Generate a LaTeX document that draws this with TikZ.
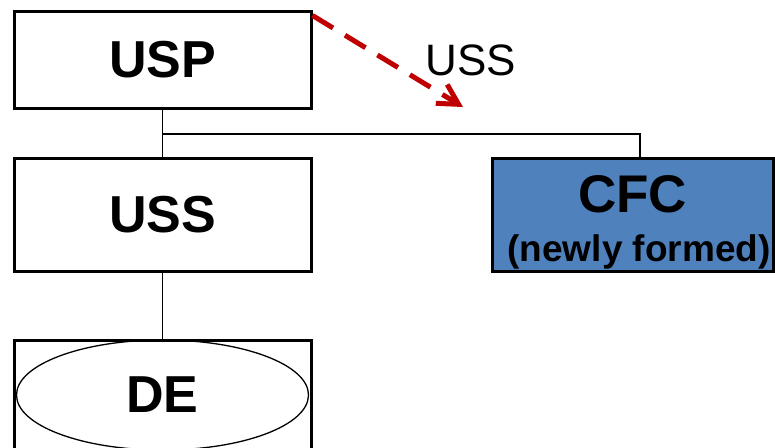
\documentclass[tikz,border=0pt]{standalone}
\usepackage{fontspec}
\setmainfont{Liberation Sans}
\usepackage{tikz}
\usetikzlibrary{arrows,arrows.meta}
\usetikzlibrary{shapes.geometric}
\usepackage{xcolor}
\definecolor{bl}{HTML}{4F81BD}
\definecolor{rd}{HTML}{C00000}
\tikzstyle{unit}=[draw,line width=3pt,minimum width=297pt,inner sep=0pt]
\tikzstyle{big}=[font=\fontsize{52}{52}\selectfont\bfseries]
\tikzstyle{link}=[line width=1.6pt]
\tikzstyle{move}=[draw=rd,line width=5pt,dash pattern=on 24pt off 14pt,-{Straight Barb[length=20pt,width=22pt,line width=5pt]}]

\begin{document}
\begin{tikzpicture}[x=1pt,y=-1pt]
  \useasboundingbox (0,0) rectangle (775,447);
  \clip (0,0) rectangle (775,447);
  \node[unit,minimum height=97pt,big] (usp) at (162.5,59.5) {USP};
  \node[unit,minimum height=113pt,big] (uss) at (162.5,214.5) {USS};
  \node[unit,minimum height=140pt,anchor=north] (debox) at (162.5,339) {};
  \node[ellipse,draw,line width=1.3pt,minimum width=292pt,minimum height=110pt,inner sep=0pt,big] (de) at (162.5,395) {DE};
  \node[unit,fill=bl,minimum width=281pt,minimum height=113pt] (cfc) at (632.5,214.5) {};
  \node[font=\fontsize{53}{53}\selectfont\bfseries] (cfcname) at (632.5,194.5) {CFC};
  \node[font=\fontsize{37}{37}\selectfont\bfseries,inner sep=0pt] (cfcnote) at (639,252) {(newly formed)};
  \coordinate (branch) at (163,134);
  \coordinate (target) at (640,134);
  \draw[link] (usp.south) -- (uss.north);
  \draw[link] (uss.south) -- (debox.north);
  \draw[link] (branch) -- (target) -- (target |- cfc.north);
  % moving the USS
  \coordinate (tip) at (463,107);
  \draw[move] ([yshift=-6pt]usp.north east) -- (tip);
  \node[font=\fontsize{44}{44}\selectfont] (ussname) at (471,60) {USS};
\end{tikzpicture}
\end{document}
